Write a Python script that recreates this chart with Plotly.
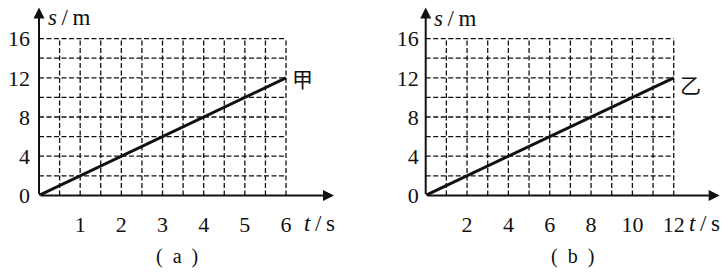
import plotly.graph_objects as go

# ---- data ----
a_t = [0, 6]
a_s = [0, 12]
b_t = [0, 12]
b_s = [0, 12]

a_xticks = [1, 2, 3, 4, 5, 6]
b_xticks = [2, 4, 6, 8, 10, 12]
yticks = [0, 4, 8, 12, 16]

a_grid_x = [0.5, 1, 1.5, 2, 2.5, 3, 3.5, 4, 4.5, 5, 5.5, 6]
b_grid_x = [1, 2, 3, 4, 5, 6, 7, 8, 9, 10, 11, 12]
grid_y = [2, 4, 6, 8, 10, 12, 14, 16]

W, H = 728, 277
FONT = "'Liberation Serif', 'Times New Roman', 'DejaVu Serif', serif"
CJK = "'Noto Sans CJK SC', sans-serif"
INK = "#111111"

# pixel geometry (layout only)
y0_px, ppu_y = 205.0, 10.28
a_x0, a_ppu = 39.0, 41.17
b_x0, b_ppu = 425.7, 20.67
a_xend, b_xend = 336.0, 722.0

fig = go.Figure()

fig.add_trace(go.Scatter(x=a_t, y=a_s, mode="lines", line=dict(color=INK, width=3),
                         xaxis="x", yaxis="y", showlegend=False, hoverinfo="skip"))
fig.add_trace(go.Scatter(x=b_t, y=b_s, mode="lines", line=dict(color=INK, width=3),
                         xaxis="x2", yaxis="y2", showlegend=False, hoverinfo="skip"))

shapes = []
DASH = "5px,2.5px"
def grid(xref, yref, gx, gy, xmax, ymax):
    for v in gx:
        shapes.append(dict(type="line", xref=xref, yref=yref, x0=v, x1=v, y0=0, y1=ymax,
                           line=dict(color=INK, width=1.3, dash=DASH), layer="below"))
    for v in gy:
        shapes.append(dict(type="line", xref=xref, yref=yref, x0=0, x1=xmax, y0=v, y1=v,
                           line=dict(color=INK, width=1.3, dash=DASH), layer="below"))

grid("x", "y", a_grid_x, grid_y, a_t[-1], 16)
grid("x2", "y2", b_grid_x, grid_y, b_t[-1], 16)

yrange_top = y0_px / ppu_y
y_dom0 = (H - y0_px) / H

a_range = (a_xend - a_x0) / a_ppu
b_range = (b_xend - b_x0) / b_ppu

annotations = []
def axes_arrows(xref, yref, xtip, ytip):
    annotations.append(dict(x=xtip, y=0, ax=0, ay=0, xref=xref, yref=yref, axref=xref, ayref=yref,
                            text="", showarrow=True, arrowhead=2, arrowsize=1.1, arrowwidth=2,
                            arrowcolor=INK, standoff=0, startstandoff=0))
    annotations.append(dict(x=0, y=ytip, ax=0, ay=0, xref=xref, yref=yref, axref=xref, ayref=yref,
                            text="", showarrow=True, arrowhead=2, arrowsize=1.1, arrowwidth=2,
                            arrowcolor=INK, standoff=0, startstandoff=0))

ytip = (y0_px - 8) / ppu_y
axes_arrows("x", "y", (334 - a_x0) / a_ppu, ytip)
axes_arrows("x2", "y2", (719.7 - b_x0) / b_ppu, ytip)

def txt(text, px, py, xanchor="left", size=23, family=FONT):
    annotations.append(dict(text=text, x=px / W, y=1 - py / H, xref="paper", yref="paper",
                            xanchor=xanchor, yanchor="middle", showarrow=False,
                            font=dict(family=family, size=size, color=INK)))

# axis titles
txt("<i>s</i>\u2009/\u2009m", 46, 18)
txt("<i>s</i>\u2009/\u2009m", 432, 19)
txt("<i>t</i>\u2009/\u2009s", 302, 234)
txt("<i>t</i>\u2009/\u2009s", 687, 234)

# line labels (anchored at end of each line)
txt("甲", a_x0 + a_t[-1] * a_ppu + 4, y0_px - a_s[-1] * ppu_y, size=21, family=CJK)
txt("乙", b_x0 + b_t[-1] * b_ppu + 4, y0_px - b_s[-1] * ppu_y + 6, size=21, family=CJK)

# panel captions
txt("(\u2002a\u2002)", 177, 269, xanchor="center", size=20)
txt("(\u2002b\u2002)", 572, 269, xanchor="center", size=20)

axis_common = dict(showgrid=False, zeroline=False, showline=False, ticks="",
                   tickfont=dict(family=FONT, size=22, color=INK), fixedrange=True)

fig.update_layout(
    width=W, height=H, margin=dict(l=0, r=0, t=0, b=0),
    paper_bgcolor="white", plot_bgcolor="white",
    font=dict(family=FONT, size=22, color=INK),
    xaxis=dict(domain=[a_x0 / W, a_xend / W], range=[0, a_range], tickvals=a_xticks,
               anchor="y", ticklabelstandoff=14, **axis_common),
    yaxis=dict(domain=[y_dom0, 1], range=[0, yrange_top], tickvals=yticks,
               anchor="x", ticklabelstandoff=8, **axis_common),
    xaxis2=dict(domain=[b_x0 / W, b_xend / W], range=[0, b_range], tickvals=b_xticks,
                anchor="y2", ticklabelstandoff=14, **axis_common),
    yaxis2=dict(domain=[y_dom0, 1], range=[0, yrange_top], tickvals=yticks,
                anchor="x2", ticklabelstandoff=6, **axis_common),
    shapes=shapes, annotations=annotations,
)

fig.write_html("out.html")
